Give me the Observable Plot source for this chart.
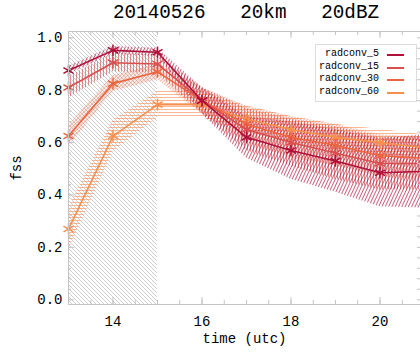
<!DOCTYPE html>
<html><head><meta charset="utf-8">
<script src="https://cdn.jsdelivr.net/npm/d3@7"></script>
<script src="https://cdn.jsdelivr.net/npm/@observablehq/plot@0.6"></script>
<style>
body{margin:0;background:#fff;}
#wrap{position:relative;width:420px;height:353px;overflow:hidden;font-family:"Liberation Mono",monospace;}
#title{position:absolute;left:0;width:492px;top:2px;text-align:center;font-size:19.3px;white-space:pre;color:#000;}
#legend{position:absolute;left:315px;top:44px;width:100px;height:56px;border:1px solid #ddd;background:#fff;font-size:10px;}
.row{position:absolute;left:0;width:63px;text-align:right;white-space:pre;}
.sw{position:absolute;left:71px;width:17px;height:2px;}
</style></head>
<body><div id="wrap"><div id="chart"></div><div id="title">20140526   20km   20dBZ</div><div id="legend"></div></div>
<script>
const times = [13, 14, 15, 16, 17, 18, 19, 20, 21];
const seriesNames = ["radconv_5", "radconv_15", "radconv_30", "radconv_60"];
const fss5  = [0.875, 0.952, 0.945, 0.76, 0.62, 0.57, 0.53, 0.485, 0.49];
const fss15 = [0.81, 0.905, 0.90, 0.76, 0.65, 0.60, 0.56, 0.52, 0.52];
const fss30 = [0.625, 0.825, 0.87, 0.76, 0.67, 0.62, 0.59, 0.55, 0.54];
const fss60 = [0.27, 0.625, 0.745, 0.745, 0.69, 0.65, 0.62, 0.60, 0.58];
const err5  = [0.015, 0.015, 0.015, 0.05, 0.08, 0.11, 0.12, 0.13, 0.14];
const err15 = [0.04, 0.035, 0.035, 0.05, 0.08, 0.09, 0.10, 0.10, 0.10];
const err30 = [0.04, 0.03, 0.03, 0.05, 0.07, 0.08, 0.08, 0.08, 0.08];
const err60 = [0.08, 0.06, 0.05, 0.05, 0.05, 0.05, 0.05, 0.05, 0.05];
const spinupStart = 13, spinupEnd = 15;
const yTickValues = [0, 0.2, 0.4, 0.6, 0.8, 1.0];
const xTickValues = [14, 16, 18, 20];
const colors = ["#b0103a", "#d94f4f", "#ee6440", "#f7904f"];
const patternIds = ["p5", "p15", "p30", "p60"];

const values = [fss5, fss15, fss30, fss60];
const errs = [err5, err15, err30, err60];
const rows = [];
seriesNames.forEach((s, i) => times.forEach((t, j) => rows.push({series: s, idx: i, time: t, fss: values[i][j], lo: values[i][j] - errs[i][j], hi: values[i][j] + errs[i][j]})));

const yDomain = [-0.018, 1.024];
const xMinor = d3.range(13, 21.01, 0.5);
const yMinor = d3.range(0, 1.001, 0.04);
const gray = "#c4c4c4";
const frameH = 353 - 31 - 49;
const frameW = 420 - 68;

const marks = [
  Plot.rectY([{a: spinupStart, b: spinupEnd}], {x1: "a", x2: "b", y1: yDomain[0], y2: yDomain[1], fill: "url(#hatch)"})
];
[3, 2, 1, 0].forEach(i => {
  marks.push(Plot.areaY(rows.filter(r => r.idx === i), {x: "time", y1: "lo", y2: "hi", fill: `url(#${patternIds[i]})`}));
});
[3, 2, 1, 0].forEach(i => {
  const d = rows.filter(r => r.idx === i);
  marks.push(Plot.line(d, {x: "time", y: "fss", stroke: colors[i], strokeWidth: 1.6}));
  marks.push(Plot.dot(d, {x: "time", y: "fss", symbol: "asterisk", r: 5.5, stroke: colors[i], strokeWidth: 1.5}));
});
marks.push(
  Plot.ruleX([spinupStart], {stroke: gray}),
  Plot.ruleY([yDomain[0], yDomain[1]], {stroke: gray}),
  Plot.tickX(xMinor, {x: d => d, stroke: gray, insetTop: frameH - 4}),
  Plot.tickX(xTickValues, {x: d => d, stroke: gray, insetTop: frameH - 7}),
  Plot.tickX(xMinor, {x: d => d, stroke: gray, insetBottom: frameH - 4}),
  Plot.tickX(xTickValues, {x: d => d, stroke: gray, insetBottom: frameH - 7}),
  Plot.tickY(yMinor, {y: d => d, stroke: gray, insetRight: frameW - 3}),
  Plot.tickY(yTickValues, {y: d => d, stroke: gray, insetRight: frameW - 6}),
  Plot.tickY(yMinor, {y: d => d, stroke: gray, insetLeft: frameW - 3}),
  Plot.axisX({ticks: xTickValues, tickSize: 0, tickPadding: 12, tickFormat: d => String(d), label: "time (utc)", labelAnchor: "center", labelOffset: 38, labelArrow: "none", fontSize: 14}),
  Plot.axisY({ticks: yTickValues, tickSize: 0, tickPadding: 6, tickFormat: d3.format(".1f"), label: "fss", labelAnchor: "center", labelOffset: 57, labelArrow: "none", fontSize: 14})
);

const chart = Plot.plot({
  width: 420, height: 353,
  marginLeft: 68, marginRight: 0, marginTop: 31, marginBottom: 49,
  style: {fontFamily: "Liberation Mono, monospace", fontSize: "14px", color: "#000", background: "#fff"},
  x: {domain: [13, 21], range: [68, 424]},
  y: {domain: yDomain},
  marks
});

const svg = d3.select(chart.tagName.toLowerCase() === "svg" ? chart : chart.querySelector("svg"));
const defs = svg.insert("defs", ":first-child");
function pat(id, w, h, path, stroke, sw, op, transform) {
  const p = defs.append("pattern").attr("id", id).attr("patternUnits", "userSpaceOnUse").attr("width", w).attr("height", h);
  if (transform) p.attr("patternTransform", transform);
  p.append("path").attr("d", path).attr("stroke", stroke).attr("stroke-width", sw).attr("stroke-opacity", op).attr("fill", "none");
}
pat("hatch", 4, 4, "M-1,-1L5,5M-1,3L1,5M3,-1L5,1", "#a0a0a0", 0.7, 0.75);
pat("p5", 3, 10, "M1.5,0V10", colors[0], 1, 0.65, "rotate(25)");
pat("p15", 3, 10, "M1.5,0V10", colors[1], 1, 0.65);
pat("p30", 3.5, 3.5, "M-1,4.5L4.5,-1M-1,1L1,-1M2.5,4.5L4.5,2.5", colors[2], 0.9, 0.6);
pat("p60", 10, 3, "M0,1.5H10", "#f9a070", 1, 0.75);

document.getElementById("chart").appendChild(chart);

const legend = document.getElementById("legend");
seriesNames.forEach((s, i) => {
  const top = 3 + i * 12.5;
  legend.insertAdjacentHTML("beforeend", `<div class="row" style="top:${top}px">${s}</div><div class="sw" style="top:${top + 6}px;background:${colors[i]}"></div>`);
});
</script></body></html>
